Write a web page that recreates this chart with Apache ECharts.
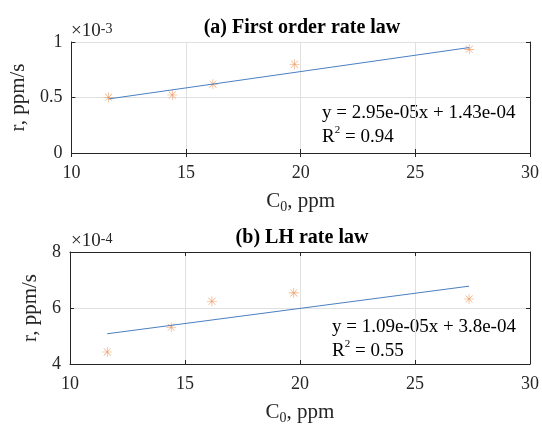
<!DOCTYPE html>
<html>
<head>
<meta charset="utf-8">
<script src="https://cdn.jsdelivr.net/npm/echarts@6/dist/echarts.min.js"></script>
<style>
  html, body { margin: 0; padding: 0; background: #fff; }
  #chart { width: 542px; height: 426px; }
</style>
</head>
<body>
<div id="chart"></div>
<script>
// measured points, C0 in ppm
const c0 = [11.62, 14.4, 16.17, 19.73, 27.35]
// (a) first order rate, ppm/s
const rateA = [0.000502, 0.000522, 0.00062, 0.0008, 0.000934]
// (b) LH rate, ppm/s
const rateB = [0.000443, 0.000531, 0.000624, 0.000654, 0.000632]
// fitted lines, read at the two ends
const fitX = [11.62, 27.35]
const fitA = [0.000487, 0.00095]
const fitB = [0.000508, 0.000678]

const titles = ['(a) First order rate law', '(b) LH rate law']
const fitText = [
  ['y = 2.95e-05x + 1.43e-04', '0.94'],
  ['y = 1.09e-05x + 3.8e-04', '0.55']
]

const font = 'Liberation Serif'
const ink = '#262626'
const star = 'path://M-0.6,-10 L0.6,-10 L0.6,10 L-0.6,10 Z M-10,-0.6 L10,-0.6 L10,0.6 L-10,0.6 Z ' +
  'M-7.5,-6.7 L-6.7,-7.5 L7.5,6.7 L6.7,7.5 Z M6.7,-7.5 L7.5,-6.7 L-6.7,7.5 L-7.5,6.7 Z'

const myChart = echarts.init(document.getElementById('chart'))

const grids = [
  { left: 70, top: 42, width: 460, height: 111 },
  { left: 70, top: 252, width: 460, height: 112 }
]

const yRange = [
  { min: 0, max: 0.001, interval: 0.0005, fmt: v => String(Math.round(v * 1e4) / 10) },
  { min: 0.0004, max: 0.0008, interval: 0.0002, fmt: v => String(Math.round(v * 1e4)) }
]

const xAxis = []
const yAxis = []
grids.forEach((g, i) => {
  //下方x轴
  xAxis.push({
    gridIndex: i, type: 'value', min: 10, max: 30, interval: 5, position: 'bottom',
    axisLine: { lineStyle: { color: ink, width: 1 } },
    axisTick: { inside: true, length: 4, lineStyle: { color: ink } },
    axisLabel: { color: ink, fontFamily: font, fontSize: 18, margin: 11 },
    splitLine: { show: true, lineStyle: { color: '#e0e0e0' } },
    name: '{a|C}{s|0}{a|, ppm}', nameLocation: 'middle', nameGap: 35,
    nameTextStyle: {
      rich: {
        a: { fontFamily: font, fontSize: 21, color: ink },
        s: { fontFamily: font, fontSize: 14, color: ink, verticalAlign: 'bottom', padding: [12, 0, 0, 0] }
      }
    }
  })
  //上方框线
  xAxis.push({
    gridIndex: i, type: 'value', min: 10, max: 30, interval: 5, position: 'top',
    axisLine: { lineStyle: { color: ink, width: 1 } },
    axisTick: { inside: true, length: 4, lineStyle: { color: ink } },
    axisLabel: { show: false }, splitLine: { show: false }
  })
  yAxis.push({
    gridIndex: i, type: 'value', min: yRange[i].min, max: yRange[i].max, interval: yRange[i].interval,
    position: 'left',
    axisLine: { show: true, lineStyle: { color: ink, width: 1 } },
    axisTick: { show: true, inside: true, length: 4, lineStyle: { color: ink } },
    axisLabel: { color: ink, fontFamily: font, fontSize: 18, margin: 9, formatter: yRange[i].fmt },
    splitLine: { show: true, lineStyle: { color: '#e0e0e0' } },
    name: 'r, ppm/s', nameLocation: 'middle', nameGap: 29, nameRotate: 90,
    nameTextStyle: { fontFamily: font, fontSize: 21, color: ink }
  })
  yAxis.push({
    gridIndex: i, type: 'value', min: yRange[i].min, max: yRange[i].max, interval: yRange[i].interval,
    position: 'right',
    axisLine: { show: true, lineStyle: { color: ink, width: 1 } },
    axisTick: { show: true, inside: true, length: 4, lineStyle: { color: ink } },
    axisLabel: { show: false }, splitLine: { show: false }
  })
})

function pairs (xs, ys) {
  return xs.map((x, k) => [x, ys[k]])
}

const series = []
const rates = [rateA, rateB]
const fits = [fitA, fitB]
for (let i = 0; i < 2; i++) {
  series.push({
    type: 'line', xAxisIndex: i * 2, yAxisIndex: i * 2,
    data: pairs(fitX, fits[i]), showSymbol: false, silent: true,
    lineStyle: { color: '#4a7fc1', width: 1 }
  })
  series.push({
    type: 'scatter', xAxisIndex: i * 2, yAxisIndex: i * 2,
    data: pairs(c0, rates[i]), symbol: star, symbolSize: 10,
    itemStyle: { color: '#ea8a45' }
  })
}

const exps = ['-3', '-4']
const graphic = []
grids.forEach((g, i) => {
  graphic.push({
    type: 'text', left: 71, top: g.top - 20,
    style: {
      text: '{a|×10}{s|' + exps[i] + '}',
      rich: {
        a: { fontFamily: font, fontSize: 19, fill: ink },
        s: { fontFamily: font, fontSize: 14, fill: ink, verticalAlign: 'top' }
      }
    }
  })
  graphic.push({
    type: 'text', left: i === 0 ? 322 : 332, top: g.top + (i === 0 ? 59 : 63),
    style: {
      text: fitText[i][0] + '\n{a|R}{s|2}{a| = ' + fitText[i][1] + '}',
      fontFamily: font, fontSize: 19, fill: '#000', lineHeight: 24,
      rich: {
        a: { fontFamily: font, fontSize: 19, fill: '#000', lineHeight: 24 },
        s: { fontFamily: font, fontSize: 11, fill: '#000', verticalAlign: 'top', lineHeight: 24 }
      }
    }
  })
})

myChart.setOption({
  animation: false,
  title: titles.map((t, i) => ({
    text: t, left: 297, textAlign: 'center', top: grids[i].top - 29,
    textStyle: { fontFamily: font, fontSize: 20, fontWeight: 'bold', color: '#000' }
  })),
  grid: grids,
  xAxis: xAxis,
  yAxis: yAxis,
  series: series,
  graphic: graphic
})
</script>
</body>
</html>
